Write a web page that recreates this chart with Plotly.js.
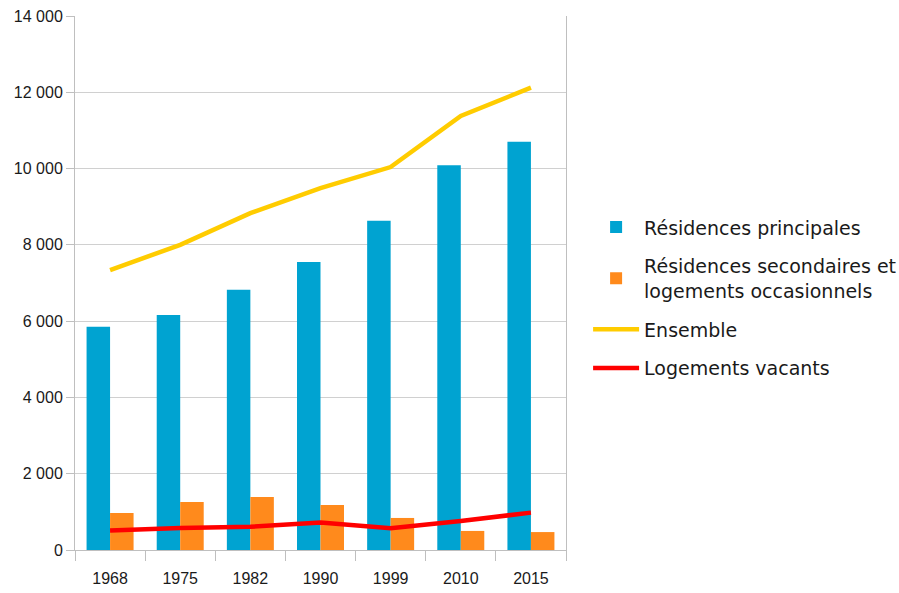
<!DOCTYPE html>
<html>
<head>
<meta charset="utf-8">
<script src="https://cdn.plot.ly/plotly-3.0.1.min.js"></script>
<style>html,body{margin:0;padding:0;background:#fff}#chart{width:899px;height:593px}</style>
</head>
<body>
<div id="chart"></div>
<script>
var years = ['1968', '1975', '1982', '1990', '1999', '2010', '2015'];
var residencesPrincipales = [5850, 6160, 6820, 7550, 8630, 10090, 10700];
var residencesSecondaires = [970, 1260, 1390, 1180, 840, 500, 470];
var ensemble = [7340, 8000, 8830, 9490, 10040, 11380, 12120];
var logementsVacants = [510, 580, 610, 720, 570, 760, 980];
var yTickVals = [0, 2000, 4000, 6000, 8000, 10000, 12000, 14000];
var yTickText = ['0', '2 000', '4 000', '6 000', '8 000', '10 000', '12 000', '14 000'];

var traces = [
  {type: 'bar', name: 'Résidences principales', x: years, y: residencesPrincipales,
   legendgroup: 'g1', marker: {color: '#00A3D1'}},
  {type: 'bar', name: 'Résidences secondaires et<br>logements occasionnels', x: years, y: residencesSecondaires,
   legendgroup: 'g2', marker: {color: '#FF8A1C'}},
  {type: 'scatter', mode: 'lines', name: 'Ensemble', x: years, y: ensemble,
   legendgroup: 'g3', line: {color: '#FFCC00', width: 4.5}},
  {type: 'scatter', mode: 'lines', name: 'Logements vacants', x: years, y: logementsVacants,
   legendgroup: 'g4', line: {color: '#FF0000', width: 4.5}}
];

var layout = {
  width: 899, height: 593,
  margin: {l: 75, r: 333, t: 16, b: 43, pad: 0, autoexpand: false},
  paper_bgcolor: '#ffffff', plot_bgcolor: '#ffffff',
  barmode: 'group', bargap: 0.33, bargroupgap: 0,
  showlegend: true,
  font: {family: 'Liberation Sans, Arial, sans-serif', size: 16, color: '#1a1a1a'},
  xaxis: {
    type: 'category', tickson: 'boundaries', ticks: 'outside', ticklen: 10,
    tickcolor: '#bfbfbf', showline: true, linecolor: '#bfbfbf', linewidth: 1,
    showgrid: false, zeroline: false, ticklabelstandoff: 14,
    tickfont: {family: 'Liberation Sans, Arial, sans-serif', size: 16, color: '#1a1a1a'}
  },
  yaxis: {
    range: [0, 14000], tickvals: yTickVals, ticktext: yTickText,
    ticks: 'outside', ticklen: 8, tickcolor: '#bfbfbf',
    showline: true, linecolor: '#bfbfbf', linewidth: 1, mirror: true,
    showgrid: true, gridcolor: '#d0d0d0', gridwidth: 1, zeroline: false,
    tickfont: {family: 'Liberation Sans, Arial, sans-serif', size: 16, color: '#1a1a1a'}
  },
  legend: {
    x: 1.045, xanchor: 'left', y: 0.64, yanchor: 'top',
    itemwidth: 46,
    font: {family: 'DejaVu Sans, sans-serif', size: 19, color: '#1a1a1a'},
    bgcolor: 'rgba(0,0,0,0)', tracegroupgap: 11, traceorder: 'grouped'
  }
};

Plotly.newPlot('chart', traces, layout, {staticPlot: true, displayModeBar: false});
</script>
</body>
</html>
